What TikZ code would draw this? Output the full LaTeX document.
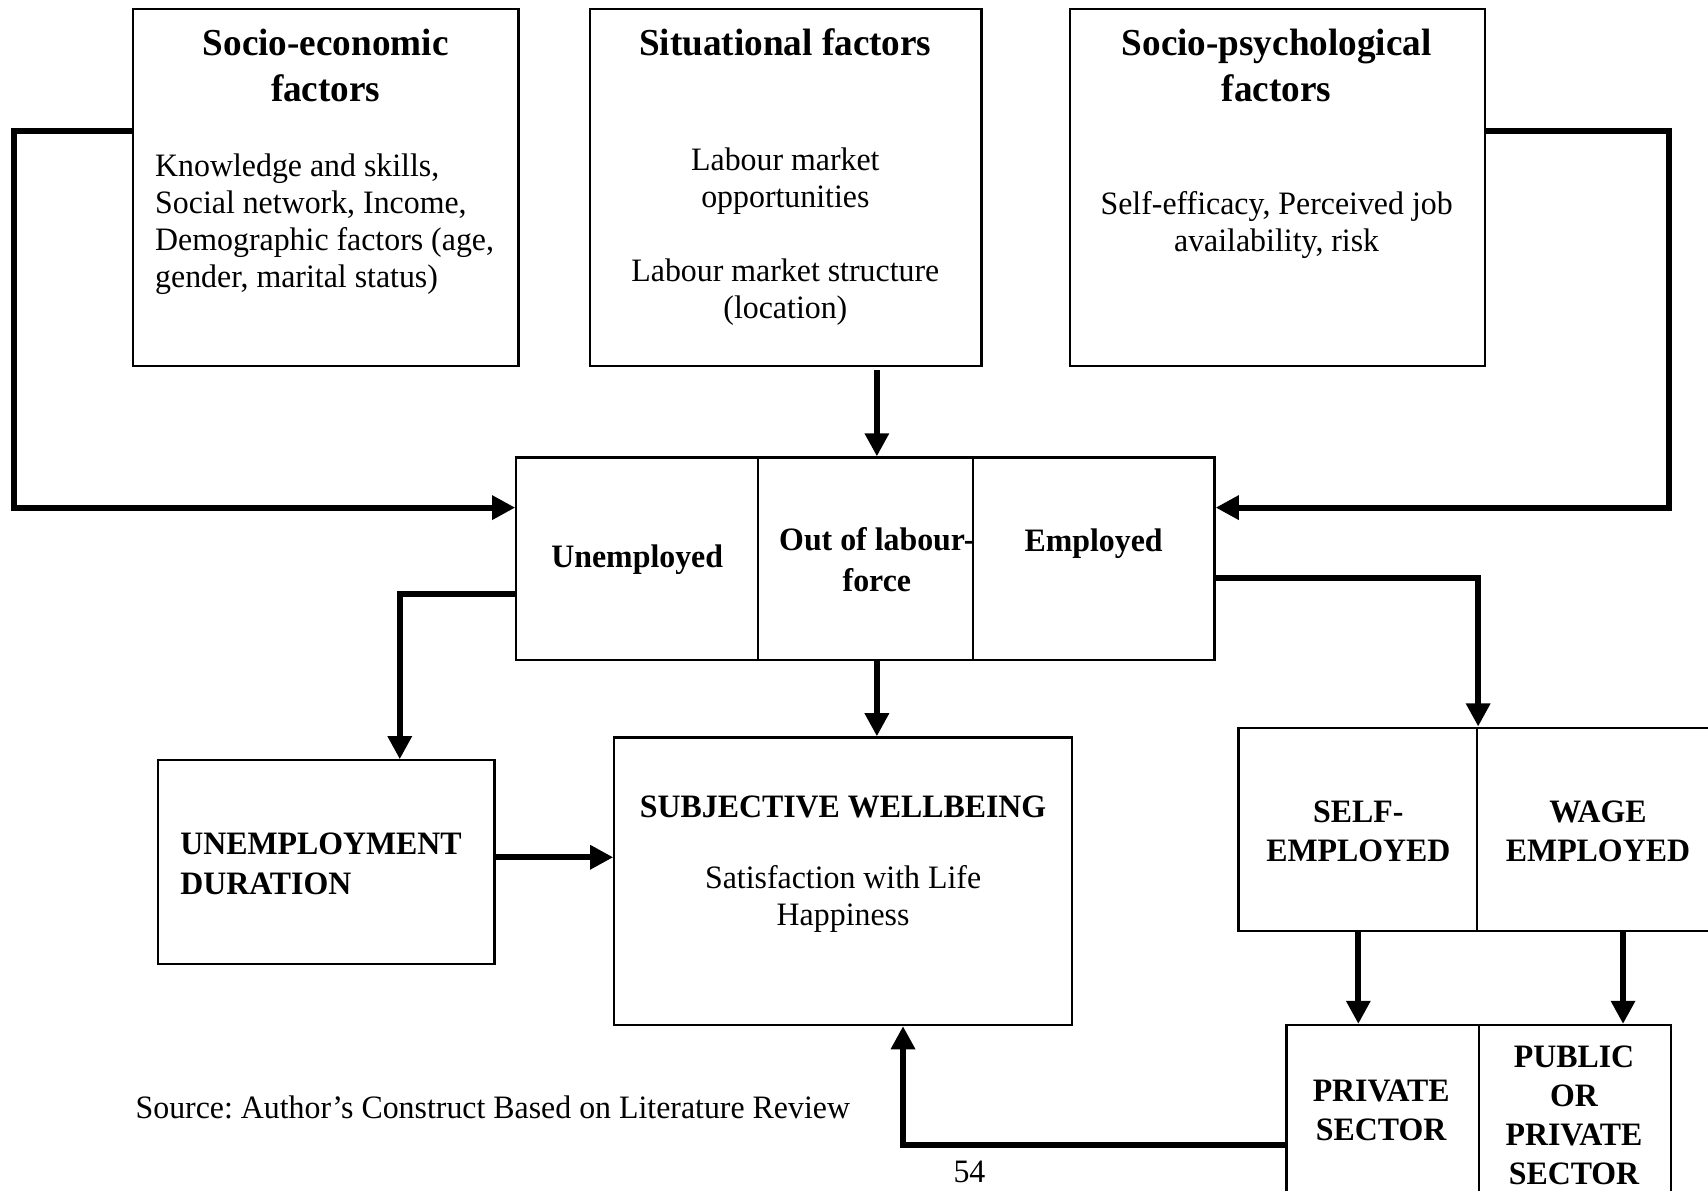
\documentclass[tikz,border=0pt]{standalone}
\usepackage{fontspec}
\setmainfont{Liberation Serif}[FakeStretch=0.975]
\usetikzlibrary{arrows.meta,fit}
\frenchspacing
\tikzset{
  box/.style={draw, line width=0.8pt, inner sep=0pt},
  conn/.style={line width=2.2pt, line join=miter, -{Triangle[length=8.5pt,width=8.5pt]}},
  ttl/.style={font=\fontsize{14}{16.8}\selectfont\bfseries, align=center, inner sep=0pt},
  body/.style={font=\fontsize{12}{13.6}\selectfont, inner sep=0pt},
  lbl/.style={font=\fontsize{12}{15}\selectfont\bfseries, align=center, inner sep=0pt},
  capslbl/.style={font=\fontsize{12}{14.4}\selectfont\bfseries, align=center, inner sep=0pt}
}
\begin{document}
\begin{tikzpicture}[x=0.4pt, y=-0.4pt]
\clip (0,0) rectangle (1568,1093);
\fill[white] (0,0) rectangle (1568,1093);

% top boxes
\node[box, fit={(122,8) (476,336)}] (se) {};
\node[box, fit={(542,8) (901,336)}] (si) {};
\node[box, fit={(982,8) (1363,336)}] (sp) {};

\node[ttl] (seT) at (299,60) {Socio-economic\\factors};
\node[body, anchor=west, align=left] (seB) at (142,206) {Knowledge and skills,\\Social network, Income,\\Demographic factors (age,\\gender, marital status)};

\node[ttl] (siT) at (721,39) {Situational factors};
\node[body, align=center] (siB1) at (721,166) {Labour market\\opportunities};
\node[body, align=center] (siB2) at (721,268) {Labour market structure\\(location)};

\node[ttl] (spT) at (1172,60) {Socio-psychological\\factors};
\node[body, align=center] (spB) at (1172,207) {Self-efficacy, Perceived job\\availability, risk};

% labour force status
\node[box, fit={(474,420) (696,606)}] (un) {};
\node[box, fit={(696,420) (893,606)}] (olf) {};
\node[box, fit={(893,420) (1115,606)}] (em) {};
\node[lbl] (unT) at (585,514) {Unemployed};
\node[lbl] (olfT) at (805,514) {Out of labour-\\force};
\node[lbl] (emT) at (1004,499) {Employed};

% unemployment duration
\node[box, fit={(145,698) (454,885)}] (ud) {};
\node[lbl, anchor=west, align=left] (udT) at (165,793) {UNEMPLOYMENT\\DURATION};

% subjective wellbeing
\node[box, fit={(564,677) (984,941)}] (sw) {};
\node[lbl] (swT) at (774,741) {SUBJECTIVE WELLBEING};
\node[body, align=center] (swB) at (774,825) {Satisfaction with Life\\Happiness};

% self / wage employed
\node[box, fit={(1137,668) (1356,855)}] (self) {};
\node[box, fit={(1356,668) (1590,855)}] (wage) {};
\node[capslbl] (selfT) at (1247,763) {SELF-\\EMPLOYED};
\node[capslbl] (wageT) at (1467,763) {WAGE\\EMPLOYED};

% sectors
\node[box, fit={(1181,941) (1358,1110)}] (priv) {};
\node[box, fit={(1358,941) (1534,1110)}] (pub) {};
\node[capslbl] (privT) at (1268,1019) {PRIVATE\\SECTOR};
\node[capslbl] (pubT) at (1445,1024) {PUBLIC\\OR\\PRIVATE\\SECTOR};

% source and page number
\node[body, anchor=west] (src) at (124,1017) {Source: Author’s Construct Based on Literature Review};
\node[body] (pg) at (890,1076) {54};

% connectors
\draw[conn] (se.west |- 0,120) -- (13,120) -- (13,466) -- (un.west |- 0,466);
\draw[conn] (sp.east |- 0,120) -- (1532,120) -- (1532,466) -- (em.east |- 0,466);
\draw[conn] (805,340) -- (olf.north -| 805,0);
\draw[conn] (un.west |- 0,545) -- (367,545) -- (ud.north -| 367,0);
\draw[conn] (ud.east |- 0,787) -- (sw.west |- 0,787);
\draw[conn] (olf.south -| 805,0) -- (sw.north -| 805,0);
\draw[conn] (em.east |- 0,531) -- (1357,531) -- (self.north east);
\draw[conn] (self.south -| 1247,0) -- (priv.north -| 1247,0);
\draw[conn] (wage.south -| 1490,0) -- (pub.north -| 1490,0);
\draw[conn] (priv.west |- 0,1051) -- (829,1051) -- (sw.south -| 829,0);
\end{tikzpicture}
\end{document}
